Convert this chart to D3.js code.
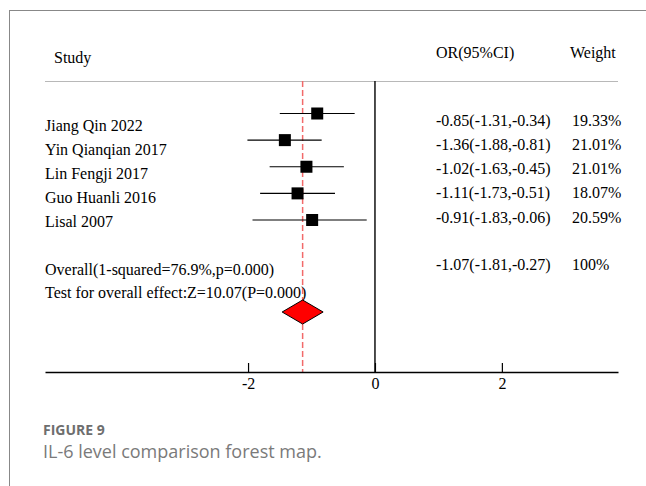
<!DOCTYPE html>
<html>
<head>
<meta charset="utf-8">
<script src="https://cdn.jsdelivr.net/npm/d3@7"></script>
<style>
  body { margin: 0; background: #fff; }
  svg text { font-family: "Liberation Serif", "Times New Roman", serif; }
</style>
</head>
<body>
<div id="forest"></div>
<script>
// study rows
var studies = ["Jiang Qin 2022", "Yin Qianqian 2017", "Lin Fengji 2017", "Guo Huanli 2016", "Lisal 2007"];
var orLabels = ["-0.85(-1.31,-0.34)", "-1.36(-1.88,-0.81)", "-1.02(-1.63,-0.45)", "-1.11(-1.73,-0.51)", "-0.91(-1.83,-0.06)"];
var weights = ["19.33%", "21.01%", "21.01%", "18.07%", "20.59%"];
// plotted positions
var est = [-0.91, -1.42, -1.08, -1.22, -0.99];
var lower = [-1.50, -2.01, -1.66, -1.81, -1.93];
var upper = [-0.32, -0.84, -0.49, -0.63, -0.13];
var overallEst = -1.14;
var overallText = "Overall(1-squared=76.9%,p=0.000)";
var overallOR = "-1.07(-1.81,-0.27)";
var overallWeight = "100%";
var testText = "Test for overall effect:Z=10.07(P=0.000)";
var xTicks = [-2, 0, 2];

var W = 646, H = 486;

var svg = d3.select("#forest")
    .append("svg")
    .attr("width", W)
    .attr("height", H);

// frame
svg.append("line").attr("x1", 9).attr("x2", W).attr("y1", 10.5).attr("y2", 10.5)
    .attr("stroke", "#888").attr("stroke-width", 1);
svg.append("line").attr("x1", 9.5).attr("x2", 9.5).attr("y1", 10).attr("y2", H)
    .attr("stroke", "#888").attr("stroke-width", 1);

var x = d3.scaleLinear()
    .domain([-5.2, 3.83])
    .range([45, 618]);

var yMark = d3.scalePoint().domain(studies).range([113.5, 220]);
var yLabel = d3.scalePoint().domain(studies).range([125, 221]);
var yRight = d3.scalePoint().domain(studies).range([120, 217]);

var axisY = 372;
var ruleY = 81;

// headers
svg.append("text").attr("x", 54).attr("y", 57).attr("dy", "0.35em")
    .attr("font-size", 16).text("Study");
svg.append("text").attr("x", 436).attr("y", 52).attr("dy", "0.35em")
    .attr("font-size", 16).text("OR(95%CI)");
svg.append("text").attr("x", 570).attr("y", 52).attr("dy", "0.35em")
    .attr("font-size", 16).text("Weight");

svg.append("line").attr("x1", 45).attr("x2", 618).attr("y1", ruleY + 0.5).attr("y2", ruleY + 0.5)
    .attr("stroke", "#b8b8b8").attr("stroke-width", 1);

// zero line
svg.append("line")
    .attr("x1", x(0)).attr("x2", x(0))
    .attr("y1", ruleY).attr("y2", axisY)
    .attr("stroke", "#111").attr("stroke-width", 1.5);

// overall effect line (dashed)
svg.append("line")
    .attr("x1", x(overallEst)).attr("x2", x(overallEst))
    .attr("y1", ruleY).attr("y2", axisY)
    .attr("stroke", "#f26a6a").attr("stroke-width", 1.5)
    .attr("stroke-dasharray", "6,3");

// axis
var axis = svg.append("g")
    .attr("transform", "translate(0," + axisY + ")")
    .call(d3.axisBottom(x).tickValues(xTicks).tickSizeInner(-9).tickSizeOuter(0).tickPadding(6));
axis.select(".domain").attr("stroke-width", 1.5);
axis.selectAll(".tick line").attr("stroke-width", 1.2);
axis.selectAll("text")
    .attr("font-size", 16)
    .attr("font-family", "Liberation Serif, serif")
    .attr("fill", "#000")
    .text(function (d) { return d < 0 ? "-" + Math.abs(d) : d; });

// CI lines
svg.selectAll(".ci")
    .data(studies)
    .join("line")
    .attr("class", "ci")
    .attr("x1", function (d, i) { return x(lower[i]); })
    .attr("x2", function (d, i) { return x(upper[i]); })
    .attr("y1", function (d) { return yMark(d); })
    .attr("y2", function (d) { return yMark(d); })
    .attr("stroke", "#000").attr("stroke-width", 1.2);

var sq = 12;
svg.selectAll(".sq")
    .data(studies)
    .join("rect")
    .attr("class", "sq")
    .attr("x", function (d, i) { return x(est[i]) - sq / 2; })
    .attr("y", function (d) { return yMark(d) - sq / 2; })
    .attr("width", sq).attr("height", sq)
    .attr("fill", "#000");

// labels
svg.selectAll(".study")
    .data(studies)
    .join("text")
    .attr("class", "study")
    .attr("x", 45).attr("y", function (d) { return yLabel(d); })
    .attr("dy", "0.35em").attr("font-size", 16)
    .text(function (d) { return d; });

svg.selectAll(".orl")
    .data(studies)
    .join("text")
    .attr("class", "orl")
    .attr("x", 436).attr("y", function (d) { return yRight(d); })
    .attr("dy", "0.35em").attr("font-size", 16)
    .text(function (d, i) { return orLabels[i]; });

svg.selectAll(".wt")
    .data(studies)
    .join("text")
    .attr("class", "wt")
    .attr("x", 572).attr("y", function (d) { return yRight(d); })
    .attr("dy", "0.35em").attr("font-size", 16)
    .text(function (d, i) { return weights[i]; });

svg.append("text").attr("x", 45).attr("y", 269).attr("dy", "0.35em")
    .attr("font-size", 16).text(overallText);
svg.append("text").attr("x", 45).attr("y", 292.5).attr("dy", "0.35em")
    .attr("font-size", 16).text(testText);
svg.append("text").attr("x", 436).attr("y", 264).attr("dy", "0.35em")
    .attr("font-size", 16).text(overallOR);
svg.append("text").attr("x", 572).attr("y", 264).attr("dy", "0.35em")
    .attr("font-size", 16).text(overallWeight);

// diamond
var cx = x(overallEst), cy = 312, hw = 20.5, hh = 12;
svg.append("path")
    .attr("d", "M" + (cx - hw) + "," + cy + "L" + cx + "," + (cy - hh) + "L" + (cx + hw) + "," + cy + "L" + cx + "," + (cy + hh) + "Z")
    .attr("fill", "#ff0000").attr("stroke", "#000").attr("stroke-width", 1);

// caption
svg.append("text").attr("x", 43).attr("y", 430).attr("dy", "0.35em")
    .style("font-family", "'Open Sans', sans-serif").attr("font-size", 14)
    .attr("font-weight", "bold").attr("fill", "#6e6e6e").text("FIGURE 9");
svg.append("text").attr("x", 43).attr("y", 452).attr("dy", "0.35em")
    .style("font-family", "'Open Sans', sans-serif").attr("font-size", 18)
    .attr("fill", "#7a7a7a").text("IL-6 level comparison forest map.");
</script>
</body>
</html>
